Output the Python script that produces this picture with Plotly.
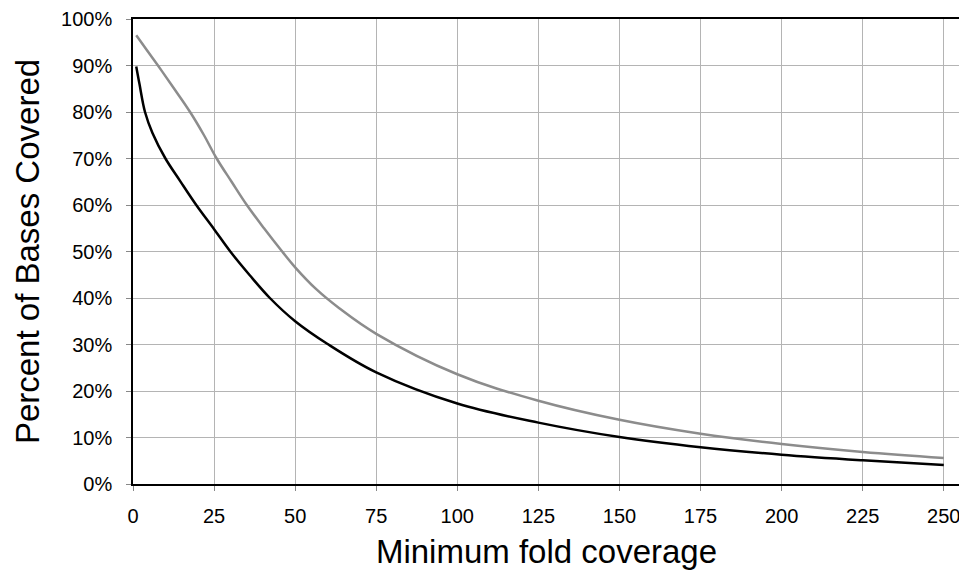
import plotly.graph_objects as go

# Black curve
black_x = [1, 2, 3.7, 6, 10, 14.5, 19.5, 25, 30, 36, 42.2, 50, 60, 75, 100, 125, 150, 175, 200, 225, 250]
black_y = [89.8, 86.0, 80.0, 75.5, 70.0, 65.2, 60.0, 54.8, 50.0, 44.9, 40.0, 35.0, 30.1, 24.0, 17.3, 13.2, 10.1, 7.9, 6.3, 5.1, 4.1]

# Gray curve
gray_x = [1, 4.3, 7.7, 12.7, 17.6, 21.9, 25.8, 30.4, 35.1, 40.4, 46.0, 50, 56.5, 63.6, 75, 100, 125, 150, 175, 200, 225, 250]
gray_y = [96.5, 93.3, 90.0, 85.0, 80.0, 75.0, 70.0, 65.0, 60.0, 55.0, 50.0, 46.6, 41.9, 37.8, 32.3, 23.6, 17.9, 13.8, 10.8, 8.6, 6.9, 5.6]

x_ticks = [0, 25, 50, 75, 100, 125, 150, 175, 200, 225, 250]
y_ticks = [0, 10, 20, 30, 40, 50, 60, 70, 80, 90, 100]

fig = go.Figure()
fig.add_trace(go.Scatter(x=gray_x, y=gray_y, mode="lines",
                         line=dict(color="#8c8c8c", width=2.5, shape="spline", smoothing=1.1),
                         showlegend=False, hoverinfo="skip"))
fig.add_trace(go.Scatter(x=black_x, y=black_y, mode="lines",
                         line=dict(color="#000000", width=2.5, shape="spline", smoothing=1.0),
                         showlegend=False, hoverinfo="skip"))

font_family = "Liberation Sans, Arial, sans-serif"
fig.update_layout(
    width=967, height=579,
    margin=dict(l=125, r=15, t=11, b=103, autoexpand=False),
    paper_bgcolor="white", plot_bgcolor="white",
    font=dict(family=font_family, color="black", size=20),
    xaxis=dict(
        range=[0, 255], tickvals=x_ticks, ticktext=[str(v) for v in x_ticks],
        showgrid=True, gridcolor="#b4b4b4", gridwidth=1,
        showline=True, linecolor="black", linewidth=1.5, mirror=True,
        ticks="outside", ticklen=5, tickcolor="#888888",
        tickfont=dict(size=20), ticklabelstandoff=8, zeroline=False,
        automargin=False, ticklabeloverflow="allow",
        title=dict(text="Minimum fold coverage", font=dict(size=33), standoff=14),
    ),
    yaxis=dict(
        range=[0, 100], tickvals=y_ticks, ticktext=[f"{v}%" for v in y_ticks],
        showgrid=True, gridcolor="#b4b4b4", gridwidth=1,
        showline=True, linecolor="black", linewidth=1.5, mirror=True,
        ticks="outside", ticklen=5, tickcolor="#888888",
        tickfont=dict(size=20), ticklabelstandoff=10, zeroline=False,
        automargin=False, ticklabeloverflow="allow",
        title=dict(text="Percent of Bases Covered", font=dict(size=33), standoff=12),
    ),
)

fig.write_html("out.html")
